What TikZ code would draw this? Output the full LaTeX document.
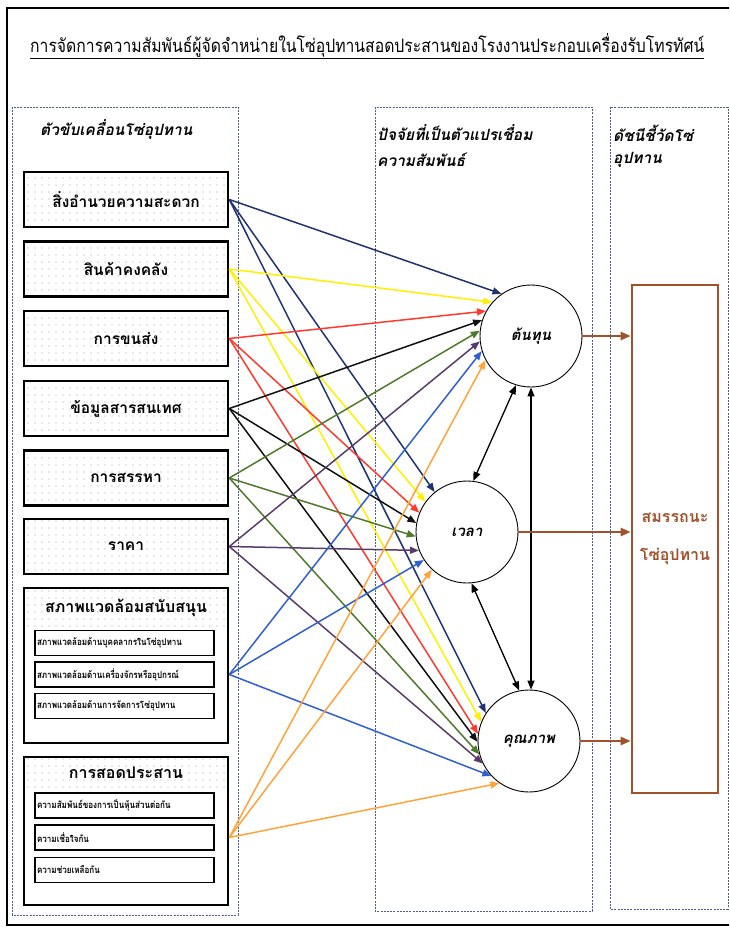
\documentclass[tikz,border=0pt]{standalone}
\usepackage{fontspec}
\usetikzlibrary{arrows.meta,patterns}
\newfontfamily\thai[Script=Thai]{Loma}
\newfontfamily\thaicond[Script=Thai,FakeStretch=0.85]{Loma}

% light dot screen used inside the driver boxes
\pgfdeclarepatternformonly{sparsedots}{\pgfqpoint{-1pt}{-1pt}}{\pgfqpoint{1pt}{1pt}}{\pgfqpoint{7pt}{7pt}}%
  {\pgfpathcircle{\pgfqpoint{0pt}{0pt}}{0.6pt}\pgfusepath{fill}}

\definecolor{cnavy}{HTML}{1F3272}
\definecolor{cyellow}{HTML}{FFF000}
\definecolor{cred}{HTML}{FF3A2C}
\definecolor{cblack}{HTML}{111111}
\definecolor{cgreen}{HTML}{4E7A2A}
\definecolor{cpurple}{HTML}{5B3B6B}
\definecolor{cblue}{HTML}{2F5FD0}
\definecolor{corange}{HTML}{FFA33A}
\definecolor{cbrown}{HTML}{A0522D}
\definecolor{panelline}{HTML}{4A5A9A}
\definecolor{dotgray}{HTML}{9A9A9A}

\tikzset{
  panel/.style={draw=panelline, line width=0.9pt, dash pattern=on 2pt off 1.2pt},
  header/.style={anchor=west, inner sep=0pt, font=\thai\bfseries\itshape\fontsize{15.5}{17}\selectfont},
  drvbox/.style={draw, line width=2.6pt, pattern=sparsedots, pattern color=dotgray,
    minimum width=204pt, minimum height=55pt, inner sep=0pt,
    font=\thai\bfseries\fontsize{15.5}{17}\selectfont},
  groupbox/.style={draw, line width=2.6pt, minimum width=204pt, inner sep=0pt},
  grouptitle/.style={inner sep=0pt, font=\thai\bfseries\fontsize{16}{18}\selectfont},
  subbox/.style={draw, line width=1.7pt, fill=white, minimum width=179pt, minimum height=25pt,
    inner sep=2pt, text width=175pt, align=left, font=\thaicond\bfseries\fontsize{9.5}{10}\selectfont},
  circ/.style={circle, draw, line width=0.9pt, fill=white, minimum size=102pt, inner sep=0pt,
    font=\thai\bfseries\itshape\fontsize{15}{17}\selectfont},
  perfbox/.style={draw=cbrown, line width=2.6pt, minimum width=86pt, minimum height=508pt,
    align=center, text=cbrown, font=\thai\bfseries\fontsize{16}{38}\selectfont},
  flow/.style={line width=1.5pt, -{Triangle[length=9pt,width=7pt]}},
  twoway/.style={line width=1.3pt, {Triangle[length=9pt,width=7pt]}-{Triangle[length=9pt,width=7pt]}},
  perfarrow/.style={draw=cbrown, line width=2.6pt, -{Triangle[length=10pt,width=8pt]}, cbrown}
}

\begin{document}
\begin{tikzpicture}[x=1pt, y=-1pt]
\useasboundingbox (0,0) rectangle (729,927);
\clip (0,0) rectangle (729,927);

% outer frame
\draw[line width=2.8pt] (7,8) rectangle (745,925);

% title
\node[anchor=base west, inner sep=0pt] (title) at (30,52)
  {\thaicond\fontsize{18.5}{20}\selectfont\underline{การจัดการความสัมพันธ์ผู้จัดจำหน่ายในโซ่อุปทานสอดประสานของโรงงานประกอบเครื่องรับโทรทัศน์}};

% three dashed panels
\draw[panel] (12,107) rectangle (238,915);
\draw[panel] (375,107) rectangle (592,911);
\draw[panel] (610,107) rectangle (728,909);

% panel headings
\node[header] (h1) at (40,130) {ตัวขับเคลื่อนโซ่อุปทาน};
\node[header] (h2a) at (377,133) {ปัจจัยที่เป็นตัวแปรเชื่อม};
\node[header] (h2b) at (377,160) {ความสัมพันธ์};
\node[header] (h3a) at (613,133) {ดัชนีชี้วัดโซ่};
\node[header] (h3b) at (613,160) {อุปทาน};

% supply chain drivers
\node[drvbox] (b1) at (126,199.5) {สิ่งอำนวยความสะดวก};
\node[drvbox] (b2) at (126,269)   {สินค้าคงคลัง};
\node[drvbox] (b3) at (126,338.5) {การขนส่ง};
\node[drvbox] (b4) at (126,408.5) {ข้อมูลสารสนเทศ};
\node[drvbox] (b5) at (126,478)   {การสรรหา};
\node[drvbox] (b6) at (126,546.5) {ราคา};

% supporting environment group
\fill[pattern=sparsedots, pattern color=dotgray] (25,589) rectangle (227,627);
\node[groupbox, minimum height=155pt] (b7) at (126,665.5) {};
\node[grouptitle] (b7t) at (126,608) {สภาพแวดล้อมสนับสนุน};
\node[subbox] (s71) at (124.5,643)   {สภาพแวดล้อมด้านบุคคลากรในโซ่อุปทาน};
\node[subbox] (s72) at (124.5,674.5) {สภาพแวดล้อมด้านเครื่องจักรหรืออุปกรณ์};
\node[subbox] (s73) at (124.5,706)   {สภาพแวดล้อมด้านการจัดการโซ่อุปทาน};

% coordination group
\fill[pattern=sparsedots, pattern color=dotgray] (25,758) rectangle (227,790);
\node[groupbox, minimum height=148pt] (b8) at (126,831) {};
\node[grouptitle] (b8t) at (126,773) {การสอดประสาน};
\node[subbox] (s81) at (124.5,805.5) {ความสัมพันธ์ของการเป็นหุ้นส่วนต่อกัน};
\node[subbox] (s82) at (124.5,837.5) {ความเชื่อใจกัน};
\node[subbox] (s83) at (124.5,870)   {ความช่วยเหลือกัน};

% mediating factors
\node[circ] (cost) at (531,336) {ต้นทุน};
\node[circ] (time) at (467,532) {เวลา};
\node[circ] (qual) at (529,741) {คุณภาพ};

% performance box
\node[perfbox] (perf) at (675,539) {สมรรถนะ\\โซ่อุปทาน};

% driver links to each factor
\foreach \src/\col/\a/\b/\c in {
    b1.east/cnavy/125/129/147,
    b2.east/cyellow/139/144/158,
    b3.east/cred/151/158/172,
    b4.east/cblack/162/170/181,
    b5.east/cgreen/174/185/195,
    b6.east/cpurple/186/201/206,
    b7.east |- s72.east/cblue/197/213/223,
    b8.east |- s82.east/corange/208/227/235} {
  \draw[flow, \col] (\src) -- (cost.\a);
  \draw[flow, \col] (\src) -- (time.\b);
  \draw[flow, \col] (\src) -- (qual.\c);
}

% links between factors
\draw[twoway] (cost.253) -- (time.83);
\draw[twoway] (cost.south) -- (cost.south |- qual.north);
\draw[twoway] (time.275) -- (qual.101);

% factors to performance
\draw[perfarrow] (cost.east) -- (cost.east -| perf.west);
\draw[perfarrow] (time.east) -- (time.east -| perf.west);
\draw[perfarrow] (qual.east) -- (qual.east -| perf.west);
\end{tikzpicture}
\end{document}
